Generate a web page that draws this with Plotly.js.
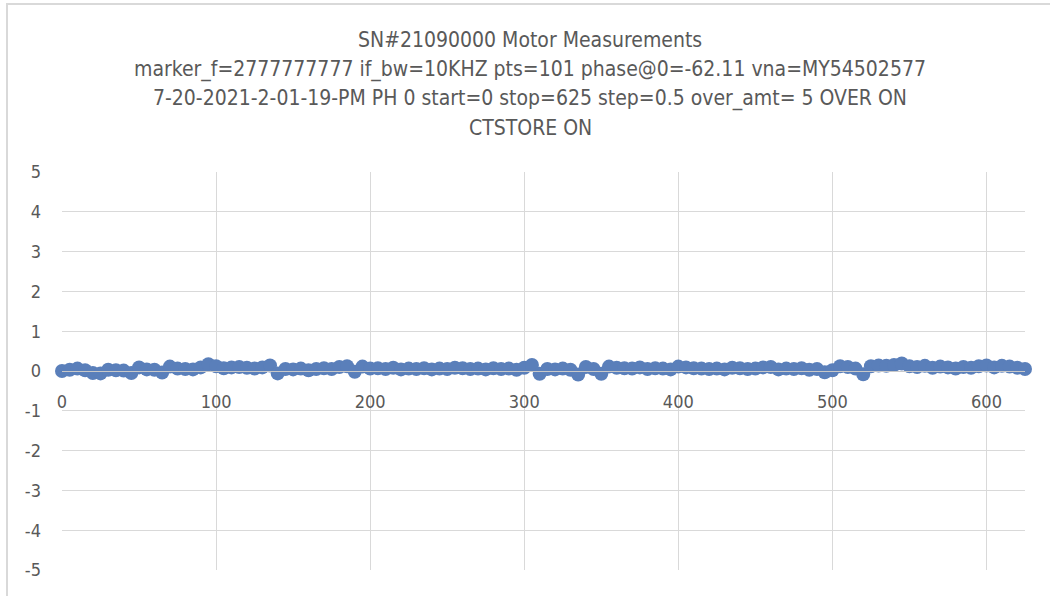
<!DOCTYPE html>
<html>
<head>
<meta charset="utf-8">
<script src="https://cdn.plot.ly/plotly-3.0.1.min.js"></script>
<style>
  html, body { margin: 0; padding: 0; background: #ffffff; }
  #wrap { position: relative; width: 1058px; height: 596px; overflow: hidden; }
  #chart { position: absolute; left: 0; top: 0; width: 1058px; height: 596px; }
  #frame { position: absolute; left: 6px; top: 3px; width: 1042px; height: 600px;
           border-left: 2px solid #d9d9d9; border-top: 2px solid #d9d9d9; pointer-events: none; }
</style>
</head>
<body>
<div id="wrap">
  <div id="chart"></div>
  <div id="frame"></div>
</div>
<script>
// Sweep settings (from title): start=0 stop=625, sampled here every 5 units
const xStart = 0;
const xStep = 5;
const measurements = [
  0.00, 0.03, 0.06, 0.02, -0.05, -0.06, 0.03, 0.02, 0.01, -0.05,
  0.09, 0.04, 0.03, -0.04, 0.11, 0.06, 0.05, 0.04, 0.09, 0.17,
  0.12, 0.07, 0.09, 0.10, 0.08, 0.06, 0.09, 0.14, -0.06, 0.05,
  0.04, 0.06, 0.02, 0.05, 0.07, 0.05, 0.10, 0.12, -0.02, 0.11,
  0.06, 0.07, 0.05, 0.08, 0.04, 0.06, 0.05, 0.07, 0.04, 0.06,
  0.05, 0.08, 0.07, 0.05, 0.06, 0.04, 0.07, 0.05, 0.06, 0.03,
  0.08, 0.15, -0.07, 0.05, 0.04, 0.06, 0.03, -0.09, 0.10, 0.05,
  -0.07, 0.11, 0.08, 0.07, 0.06, 0.09, 0.05, 0.07, 0.06, 0.04,
  0.11, 0.09, 0.07, 0.06, 0.05, 0.06, 0.04, 0.08, 0.07, 0.05,
  0.06, 0.09, 0.10, 0.04, 0.06, 0.05, 0.07, 0.03, 0.05, -0.03,
  0.02, 0.12, 0.10, 0.06, -0.08, 0.12, 0.14, 0.13, 0.15, 0.19,
  0.12, 0.10, 0.13, 0.08, 0.11, 0.09, 0.06, 0.10, 0.08, 0.12,
  0.14, 0.09, 0.13, 0.11, 0.08, 0.05
];
const positions = measurements.map((_, i) => xStart + i * xStep);

const titleLines = [
  "SN#21090000 Motor Measurements",
  "marker_f=2777777777 if_bw=10KHZ pts=101 phase@0=-62.11 vna=MY54502577",
  "7-20-2021-2-01-19-PM PH 0 start=0 stop=625 step=0.5 over_amt= 5 OVER ON",
  "CTSTORE ON"
];
const yTicks = [-5, -4, -3, -2, -1, 0, 1, 2, 3, 4, 5];
const xTicks = [0, 100, 200, 300, 400, 500, 600];

const FONT = "'Liberation Sans Narrow', 'DejaVu Sans Condensed', 'Open Sans', sans-serif";
const TXT = "#595959";

const trace = {
  type: "scatter",
  mode: "markers",
  x: positions,
  y: measurements,
  cliponaxis: false,
  marker: { color: "#5a7fba", size: 14, line: { width: 0 } },
  hoverinfo: "x+y",
  showlegend: false
};

// Plot area: left 62px, top 172px, width 963px, height 398px
const plotTop = 172, plotH = 398, plotL = 62, plotW = 963;
const titleCenterX = 530;
const titleLinePx = [40, 70, 99, 128];
const titleAnnotations = titleLines.map((t, i) => ({
  text: t,
  xref: "paper", yref: "paper",
  x: (titleCenterX - plotL) / plotW,
  y: (plotTop + plotH - titleLinePx[i]) / plotH,
  xanchor: "center", yanchor: "middle",
  showarrow: false,
  font: { family: FONT, size: 21, color: TXT }
}));

const layout = {
  width: 1058,
  height: 596,
  paper_bgcolor: "#ffffff",
  plot_bgcolor: "#ffffff",
  margin: { l: plotL, r: 1058 - plotL - plotW, t: plotTop, b: 596 - plotTop - plotH, pad: 0 },
  font: { family: FONT, color: TXT, size: 16 },
  annotations: titleAnnotations,
  xaxis: {
    range: [0, 625],
    tickvals: xTicks,
    ticktext: xTicks.map(String),
    showgrid: true,
    gridcolor: "#d9d9d9",
    gridwidth: 1,
    zeroline: false,
    showline: true,
    linecolor: "#c8c8c8",
    linewidth: 1,
    ticks: "",
    anchor: "free",
    position: 0.5,
    ticklabelstandoff: 14,
    tickfont: { family: FONT, size: 18, color: TXT },
    fixedrange: true
  },
  yaxis: {
    range: [-5, 5],
    tickvals: yTicks,
    ticktext: yTicks.map(String),
    showgrid: true,
    gridcolor: "#d9d9d9",
    gridwidth: 1,
    zeroline: false,
    showline: false,
    ticks: "",
    ticklabelstandoff: 20,
    tickfont: { family: FONT, size: 18, color: TXT },
    fixedrange: true
  }
};

Plotly.newPlot("chart", [trace], layout, { displayModeBar: false, staticPlot: true });
</script>
</body>
</html>
